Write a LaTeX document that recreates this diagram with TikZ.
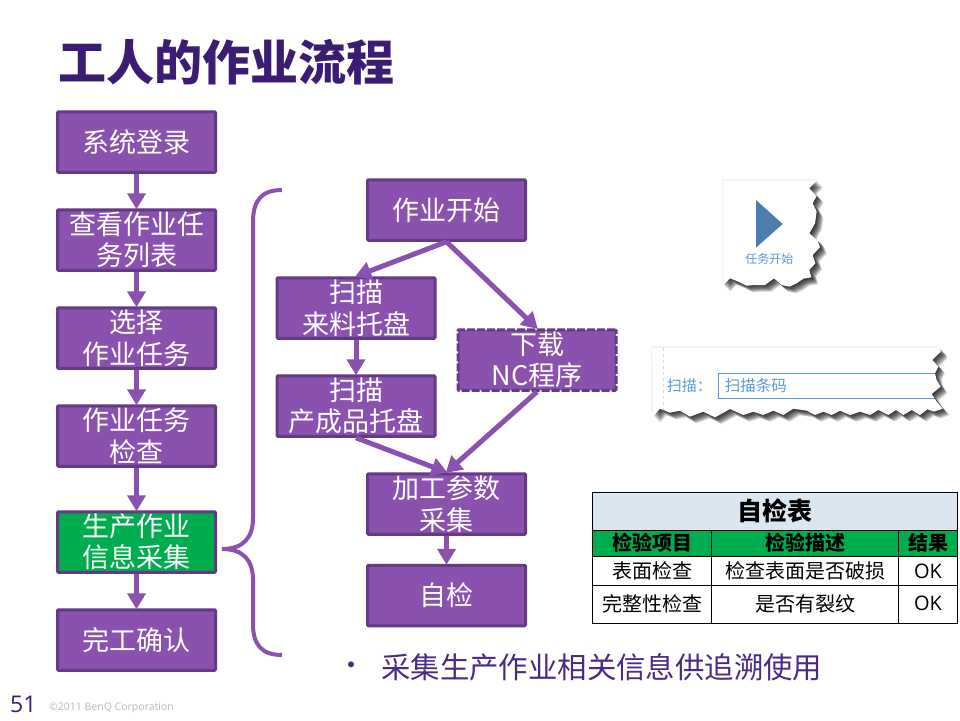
\documentclass[tikz,border=0pt]{standalone}
\usepackage{fontspec}
\setmainfont{Noto Sans CJK SC}
\newfontfamily\latinfont{Open Sans}
\usetikzlibrary{arrows.meta}
\definecolor{boxfill}{HTML}{8A52AE}
\definecolor{boxedge}{HTML}{653A84}
\definecolor{flow}{HTML}{8A52AE}
\definecolor{greenfill}{HTML}{00AD4E}
\definecolor{titlecol}{HTML}{3B1C72}
\definecolor{bulletcol}{HTML}{4B2A85}
\definecolor{linkblue}{HTML}{5B9BD5}
\definecolor{playblue}{HTML}{4A7EB0}
\definecolor{headblue}{HTML}{DCE6F1}
\newcommand{\fsz}[2]{\fontsize{#1}{#2}\selectfont}
\def\tornA{(250,32) -- (530,32) -- (508,55) -- (530,78) -- (518,100) -- (530,125) -- (525,160) -- (508,190) -- (533,212) -- (540,232) -- (518,255) -- (526,280) -- (508,300) -- (514,322) -- (490,326) -- (470,340) -- (448,350) -- (425,345) -- (402,325) -- (375,345) -- (345,345) -- (320,347) -- (295,335) -- (270,325) -- (250,345) -- cycle}
\def\tornB{(36,533) -- (898,533) -- (902,545) -- (877,570) -- (895,590) -- (885,610) -- (890,630) -- (902,650) -- (875,672) -- (890,695) -- (908,716) -- (882,725) -- (862,718) -- (840,735) -- (815,720) -- (790,735) -- (768,720) -- (745,735) -- (715,720) -- (690,735) -- (660,725) -- (630,735) -- (600,722) -- (575,735) -- (550,725) -- (525,735) -- (500,722) -- (460,716) -- (430,735) -- (400,722) -- (370,735) -- (340,725) -- (310,735) -- (270,717) -- (225,742) -- (190,725) -- (150,740) -- (120,722) -- (90,728) -- (60,716) -- (40,738) -- cycle}
\tikzset{
  flowbox/.style={draw=boxedge,fill=boxfill,line width=3pt,rounded corners=1pt,minimum width=158pt,minimum height=60.5pt,
    inner sep=0pt,align=center,text=white,font=\fsz{27}{31.5}},
  flowarrow/.style={draw=flow,line width=5pt,-{Triangle[length=16pt,width=18pt]},shorten >=-1pt},
  cell/.style={inner sep=0pt,text=black,font=\fsz{20}{24}},
  okcell/.style={inner sep=0pt,text=black,font=\latinfont\fsz{20}{24}},
  headcell/.style={inner sep=0pt,text=black,font=\fsz{20}{24}\bfseries},
  gridline/.style={draw=black,line width=1pt},
  shadowlayer/.style={fill=black,opacity=.13},
  shot/.style={fill=white}
}
\begin{document}
\begin{tikzpicture}[x=1pt,y=-1pt]
\useasboundingbox (0,0) rectangle (960,720);
\fill[white] (0,0) rectangle (960,720);

\node[inner sep=0pt,anchor=center,text=titlecol,font=\fsz{48}{54}\bfseries] (title) at (226.5,62) {工人的作业流程};

% left column
\node[flowbox] (a1) at (136.5,142) {系统登录};
\node[flowbox] (a2) at (136.5,240) {查看作业任\\务列表};
\node[flowbox] (a3) at (136.5,338) {选择\\作业任务};
\node[flowbox] (a4) at (136.5,436) {作业任务\\检查};
\node[flowbox,fill=greenfill] (a5) at (136.5,542) {生产作业\\信息采集};
\node[flowbox] (a6) at (136.5,640) {完工确认};
\foreach \p/\q in {a1/a2,a2/a3,a3/a4,a4/a5,a5/a6}
  \draw[flowarrow] (\p.south) -- (\q.north);

% brace
\draw[flow,line width=4pt] (282,190) .. controls (262,190) and (253,200) .. (253,222)
  -- (253,518) .. controls (253,538) and (243,549) .. (222,549)
  .. controls (243,549) and (253,560) .. (253,580)
  -- (253,624) .. controls (253,645) and (262,655) .. (282,655);

% middle flow
\node[flowbox] (b1) at (446.5,210) {作业开始};
\node[flowbox] (b2) at (356,308) {扫描\\来料托盘};
\node[flowbox] (b3) at (356,406) {扫描\\产成品托盘};
\node[flowbox,dash pattern=on 8pt off 2pt] (b4) at (537,360) {下载\\NC程序};
\node[flowbox] (b5) at (446.5,504) {加工参数\\采集};
\node[flowbox] (b6) at (446.5,595.5) {自检};
\draw[flowarrow] (b1.south) -- (b2.north);
\draw[flowarrow] (b1.south) -- (b4.north);
\draw[flowarrow] (b2.south) -- (b3.north);
\draw[flowarrow] (b3.south) -- (b5.north);
\draw[flowarrow] (b4.south) -- (b5.north);
\draw[flowarrow] (b5.south) -- (b6.north);

% screenshot 1
\begin{scope}[shift={(640,170)},x=.33333pt,y=-.33333pt]
  \foreach \d in {2,4,6,8,10,12,14,16,18,20}
    \fill[shadowlayer,shift={(\d,\d)}] \tornA;
  \fill[black,opacity=.05] (246,28) rectangle (530,345);
  \fill[shot] \tornA;
  \fill[playblue] (348,90) -- (428,162) -- (348,233) -- cycle;
  \node[inner sep=0pt,text=linkblue,font=\fsz{12}{14}] (t1) at (388,267) {任务开始};
\end{scope}

% screenshot 2
\begin{scope}[shift={(640,170)},x=.33333pt,y=-.33333pt]
  \foreach \d in {2,4,6,8,10,12,14,16,18,20}
    \fill[shadowlayer,shift={(\d,\d)}] \tornB;
  \fill[black,opacity=.05] (32,529) rectangle (890,725);
  \fill[shot] \tornB;
  \begin{scope}
    \clip \tornB;
    \draw[black!15,line width=.8pt,dashed] (70,533) -- (70,725);
    \draw[linkblue,line width=.9pt] (235,610) rectangle (1000,685);
  \end{scope}
  \node[inner sep=0pt,anchor=west,text=linkblue,font=\fsz{15}{18}] (t2) at (80,647) {扫描：};
  \node[inner sep=0pt,anchor=west,text=linkblue,font=\fsz{15.5}{18}] (t3) at (254,647) {扫描条码};
\end{scope}

% table
\fill[headblue] (592,492) rectangle (957,530);
\fill[greenfill] (592,530) rectangle (957,556);
\draw[gridline] (592,492) rectangle (957,623);
\draw[gridline] (592,530) -- (957,530);
\draw[gridline] (592,556) -- (957,556);
\draw[gridline] (592,585) -- (957,585);
\draw[gridline] (711.5,530) -- (711.5,623);
\draw[gridline] (898.5,530) -- (898.5,623);
\node[inner sep=0pt,text=black,font=\fsz{25}{30}\bfseries] (tt) at (775,510.5) {自检表};
\node[headcell] (h1) at (652,543) {检验项目};
\node[headcell] (h2) at (805,543) {检验描述};
\node[headcell] (h3) at (928,543) {结果};
\node[cell] (c11) at (652,571) {表面检查};
\node[cell] (c12) at (805,571) {检查表面是否破损};
\node[okcell] (c13) at (928,571) {OK};
\node[cell] (c21) at (652,603.5) {完整性检查};
\node[cell] (c22) at (805,603.5) {是否有裂纹};
\node[okcell] (c23) at (928,603.5) {OK};

% bullet line
\node[inner sep=0pt,text=bulletcol,font=\fsz{28}{32}] (bu) at (351,669) {•};
\node[inner sep=0pt,anchor=west,text=bulletcol,font=\fsz{29.4}{34}] (bt) at (381,667.5) {采集生产作业相关信息供追溯使用};

% footer
\node[inner sep=0pt,anchor=west,text=titlecol,font=\latinfont\fsz{23}{28}] (pg) at (10,704.5) {51};
\node[inner sep=0pt,anchor=west,text=black!28,font=\latinfont\fsz{10.5}{13}] (cp) at (49,708) {©2011 BenQ Corporation};
\end{tikzpicture}
\end{document}
